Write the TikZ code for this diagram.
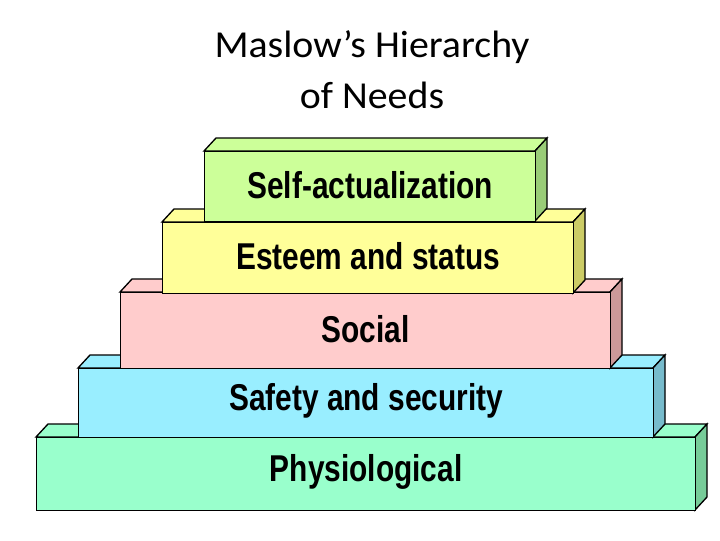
\documentclass[tikz,border=0pt]{standalone}
\usepackage{fontspec}
\setmainfont{Carlito}
\newfontfamily\lab{Liberation Sans}
\begin{document}
\begin{tikzpicture}[x=0.75pt,y=-0.75pt,
  lvl/.style={draw=black,line width=1pt,line join=miter},
  lbl/.style={font=\lab\bfseries\fontsize{20}{24}\selectfont,text=black,xscale=1.12,yscale=1.4}]
\useasboundingbox (0,0) rectangle (720,540);
\fill[white] (0,0) rectangle (720,540);
\def\dx{12}\def\dy{13}
\newcommand\blk[8]{%
  \draw[lvl,fill=#6] (#2,#3) -- (#2+\dx,#3-\dy) -- (#4+\dx,#3-\dy) -- (#4,#3) -- cycle;
  \draw[lvl,fill=#7] (#4,#3) -- (#4+\dx,#3-\dy) -- (#4+\dx,#5-\dy) -- (#4,#5) -- cycle;
  \node[lvl,fill=#6,minimum width=(#4-#2)*0.75pt,minimum height=(#5-#3)*0.75pt,anchor=north west,inner sep=0pt] (#1) at (#2,#3) {};
  \node[lbl] at ([yshift=1.5pt]#1.center) {#8};
}
\definecolor{pf}{HTML}{99FFCC}\definecolor{ps}{HTML}{77CC99}
\definecolor{sf}{HTML}{99EEFF}\definecolor{ss}{HTML}{77BBCC}
\definecolor{of}{HTML}{FFCCCC}\definecolor{os}{HTML}{CC9999}
\definecolor{ef}{HTML}{FFFF99}\definecolor{es}{HTML}{CCCC66}
\definecolor{af}{HTML}{CCFF99}\definecolor{as}{HTML}{99CC77}
\blk{phys}{36}{437}{695}{510}{pf}{ps}{Physiological}
\blk{safe}{78}{368}{653}{437}{sf}{ss}{Safety and security}
\blk{soc}{120}{292}{610}{368}{of}{os}{Social}
\blk{est}{162}{222}{573}{293}{ef}{es}{Esteem and status}
\blk{self}{204}{151}{535}{221}{af}{as}{Self-actualization}
\node[align=center,font=\fontsize{26}{35}\selectfont,xscale=1.15,yscale=1.1] (title) at (372,70) {Maslow’s Hierarchy\\of Needs};
\end{tikzpicture}
\end{document}
